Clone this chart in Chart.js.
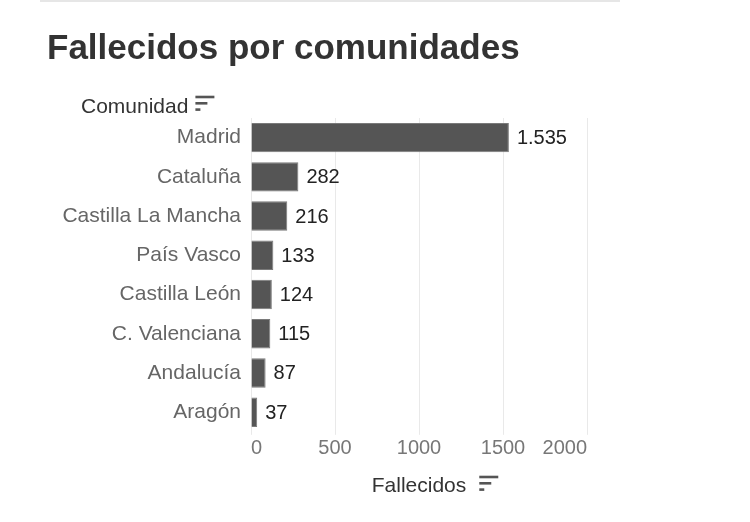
<!DOCTYPE html>
<html><head><meta charset="utf-8">
<script src="https://cdn.jsdelivr.net/npm/chart.js@4"></script>
<style>
html,body{margin:0;padding:0;background:#fff}
#wrap{position:relative;width:750px;height:522px}
#topline{position:absolute;left:40px;top:0;width:580px;height:2px;background:#e6e6e6}
canvas{position:absolute;left:0;top:0}
</style>
</head><body><div id="wrap"><div id="topline"></div><canvas id="c" width="750" height="522"></canvas></div>
<script>
const categories = ['Madrid','Cataluña','Castilla La Mancha','País Vasco','Castilla León','C. Valenciana','Andalucía','Aragón'];
const fallecidos = [1535, 282, 216, 133, 124, 115, 87, 37];
const xTicks = [0, 500, 1000, 1500, 2000];
const chartTitle = 'Fallecidos por comunidades';
const yTitle = 'Comunidad';
const xTitle = 'Fallecidos';

const FONT = "'Liberation Sans', Arial, Helvetica, sans-serif";

function fmt(v){ return String(v).replace(/\B(?=(\d{3})+(?!\d))/g, '.'); }

function drawSortIcon(ctx, x, y, color){
  ctx.save();
  ctx.strokeStyle = color; ctx.lineWidth = 2.6; ctx.lineCap = 'butt';
  const lens = [19, 12, 5];
  lens.forEach((l, i) => {
    ctx.beginPath(); ctx.moveTo(x, y + i*6.3); ctx.lineTo(x + l, y + i*6.3); ctx.stroke();
  });
  ctx.restore();
}

const extras = {
  id: 'extras',
  afterDatasetsDraw(chart){
    const ctx = chart.ctx;
    const meta = chart.getDatasetMeta(0);
    ctx.save();
    ctx.font = '20px ' + FONT;
    ctx.fillStyle = '#222';
    ctx.textAlign = 'left'; ctx.textBaseline = 'middle';
    meta.data.forEach((bar, i) => {
      ctx.fillText(fmt(fallecidos[i]), bar.x + 8, bar.y + 1);
    });
    ctx.restore();
  },
  afterDraw(chart){
    const ctx = chart.ctx;
    const area = chart.chartArea;
    ctx.save();
    ctx.font = '21px ' + FONT;
    ctx.fillStyle = '#333';
    ctx.textAlign = 'left'; ctx.textBaseline = 'middle';
    const yx = 81, yy = area.top - 11;
    ctx.fillText(yTitle, yx, yy);
    const w = ctx.measureText(yTitle).width;
    drawSortIcon(ctx, yx + w + 7, yy - 10, '#555');
    const xs = chart.scales.x;
    const tw = ctx.measureText(xTitle).width;
    const cx = (xs.left + xs.right) / 2;
    drawSortIcon(ctx, cx + tw/2 + 13, 477, '#555');
    ctx.restore();
  }
};

new Chart(document.getElementById('c'), {
  type: 'bar',
  data: {
    labels: categories,
    datasets: [{
      data: fallecidos,
      backgroundColor: '#555555',
      borderColor: '#7a7a7a',
      borderWidth: 1,
      barPercentage: 0.75,
      categoryPercentage: 1.0
    }]
  },
  options: {
    indexAxis: 'y',
    responsive: false,
    animation: false,
    devicePixelRatio: 1,
    layout: { padding: { left: 47, right: 163, top: 0, bottom: 23 } },
    plugins: {
      legend: { display: false },
      tooltip: { enabled: false },
      title: {
        display: true, text: chartTitle, align: 'start', color: '#333',
        font: { family: FONT, size: 35, weight: 'bold' },
        padding: { top: 28, bottom: 48 }
      }
    },
    scales: {
      x: {
        min: 0, max: 2000,
        afterBuildTicks(s){ s.ticks = xTicks.map(v => ({ value: v })); },
        ticks: {
          align: 'inner', color: '#777', padding: 2,
          font: { family: FONT, size: 20 },
          callback: v => String(v)
        },
        grid: { color: '#e9e9e9', lineWidth: 1, drawTicks: true, tickLength: 3 },
        border: { display: false },
        title: {
          display: true, text: xTitle, color: '#333',
          font: { family: FONT, size: 21 }, padding: { top: 11, bottom: 0 }
        }
      },
      y: {
        afterFit(s){ s.width = 204; },
        ticks: { color: '#666', padding: 2, font: { family: FONT, size: 21 } },
        grid: { display: false },
        border: { display: false }
      }
    }
  },
  plugins: [extras]
});
</script>
</body></html>
